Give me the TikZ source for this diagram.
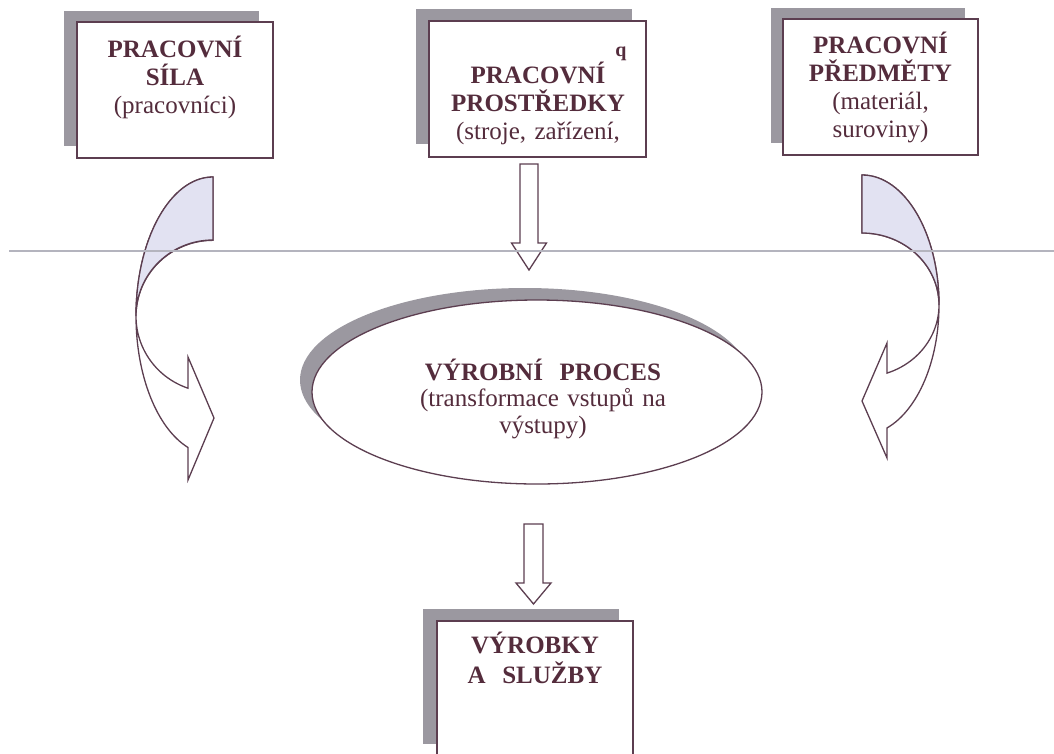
\documentclass[tikz,border=0pt]{standalone}
\usepackage{fontspec}
\setmainfont{Liberation Serif}
\usetikzlibrary{shapes.geometric}
\definecolor{edgec}{RGB}{92,62,80}
\definecolor{textc}{RGB}{84,44,60}
\definecolor{shadec}{RGB}{155,152,160}
\definecolor{backc}{RGB}{226,226,242}
\definecolor{rulec}{RGB}{180,180,190}
\begin{document}
\begin{tikzpicture}[x=1pt,y=1pt,
  card/.style={draw=edgec, line width=1.3pt, fill=white, inner sep=0pt, minimum height=136pt},
  cardshadow/.style={fill=shadec, inner sep=0pt, minimum height=135pt},
  label/.style={anchor=base, text width=300pt, align=center, inner sep=0pt,
    text=textc, font=\fontsize{25}{28}\selectfont},
  hollow/.style={draw=edgec, line width=1.3pt, fill=white, line join=miter},
  backface/.style={draw=edgec, line width=1.3pt, fill=backc, line join=miter}]
\useasboundingbox (0,0) rectangle (1054,-753);

% input boxes with their shadows
\node[cardshadow, minimum width=195pt] (s1sh) at (161.5,-78.5) {};
\node[card, minimum width=196pt] (s1) at (175,-90) {};
\node[label] (s1t) at (175,-57) {\textbf{PRACOVNÍ}\\\textbf{SÍLA}\\(pracovníci)};

\node[cardshadow, minimum width=216pt] (s2sh) at (524,-76) {};
\node[card, minimum width=217pt] (s2) at (537.5,-89) {};
\node[label] (s2t) at (538,-83) {\textbf{PRACOVNÍ}\\\textbf{PROSTŘEDKY}\\(stroje, zařízení,};
\node[anchor=base, inner sep=0pt, text=textc, font=\fontsize{20}{22}\selectfont\bfseries] (s2q) at (621,-56) {q};

\node[cardshadow, minimum width=194pt] (s3sh) at (868,-75) {};
\node[card, minimum width=195pt] (s3) at (880.5,-87) {};
\node[label] (s3t) at (880.5,-53) {\textbf{PRACOVNÍ}\\\textbf{PŘEDMĚTY}\\(materiál,\\suroviny)};

% output box
\node[cardshadow, minimum width=196pt] (s4sh) at (521,-676.5) {};
\node[card, minimum width=196pt] (s4) at (535,-689) {};
\node[label, font=\fontsize{25}{30}\selectfont] (s4t) at (535,-653) {\textbf{VÝROBKY}\\\textbf{A\ \ SLUŽBY}};

% production process
\node[ellipse, fill=shadec, inner sep=0pt, minimum width=450pt, minimum height=184pt] (procsh) at (525,-380) {};
\node[ellipse, draw=edgec, line width=1.3pt, fill=white, inner sep=0pt, minimum width=450pt, minimum height=184pt] (proc) at (537,-392) {};
\node[label, font=\fontsize{25}{26.5}\selectfont] (proct) at (543,-380) {\textbf{VÝROBNÍ\ \ PROCES}\\(transformace vstupů na\\výstupy)};

% curved arrow on the left
\coordinate (lc) at (213,-316);
\draw[hollow] (213,-177) arc[start angle=90, end angle=251.05, x radius=77pt, y radius=139pt]
  -- (188,-480) -- (214,-418) -- (188,-357) -- (188,-388.2)
  arc[start angle=251.05, end angle=90, x radius=77pt, y radius=76pt] -- cycle;
\draw[backface] (213,-177) arc[start angle=90, end angle=180, x radius=77pt, y radius=139pt]
  arc[start angle=180, end angle=90, x radius=77pt, y radius=76pt] -- cycle;

% curved arrow on the right
\coordinate (rc) at (862,-305);
\draw[hollow] (862,-175) arc[start angle=90, end angle=-71.05, x radius=77pt, y radius=130pt]
  -- (887,-458) -- (862,-401) -- (887,-343) -- (887,-373.1)
  arc[start angle=-71.05, end angle=90, x radius=77pt, y radius=72pt] -- cycle;
\draw[backface] (862,-175) arc[start angle=90, end angle=0, x radius=77pt, y radius=130pt]
  arc[start angle=0, end angle=90, x radius=77pt, y radius=72pt] -- cycle;

% straight block arrows
\coordinate (t1) at (520,-164);
\draw[hollow] (t1) -- ++(18,0) -- ++(0,-79) -- ++(8.5,0) -- ++(-17.5,-27) -- ++(-17.5,27) -- ++(8.5,0) -- cycle;
\coordinate (t2) at (524,-524);
\draw[hollow] (t2) -- ++(19,0) -- ++(0,-59) -- ++(8,0) -- ++(-17.5,-21) -- ++(-17.5,21) -- ++(8,0) -- cycle;

% thin horizontal rule
\draw[rulec, line width=1.5pt] (9,-251) -- (1054,-251);
\end{tikzpicture}
\end{document}
